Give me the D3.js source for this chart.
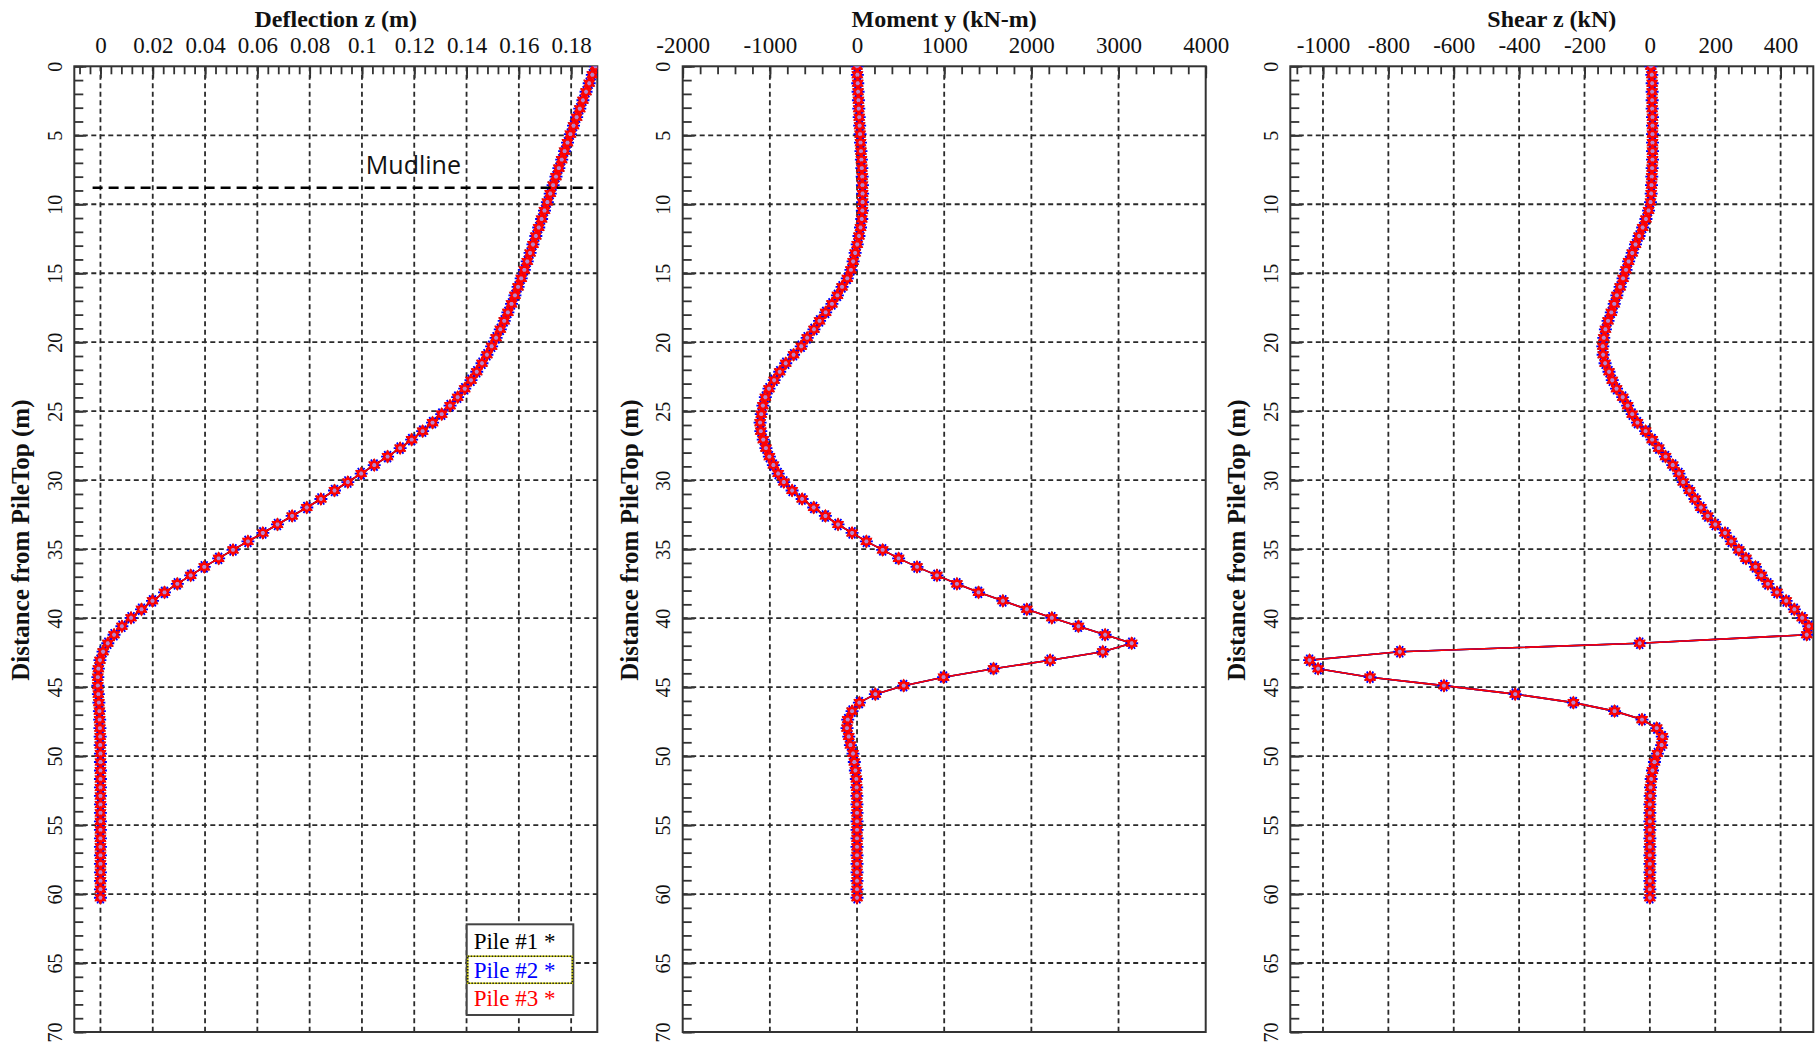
<!DOCTYPE html>
<html>
<head>
<meta charset="utf-8">
<script src="https://cdn.jsdelivr.net/npm/d3@7"></script>
<style>
  body { margin: 0; background: #ffffff; }
  svg { display: block; }
  text { font-family: "Liberation Serif", "Times New Roman", serif; fill: #111; }
</style>
</head>
<body>
<svg id="chart" width="1817" height="1047"></svg>
<script>
// Node depths along the pile (m below pile top)
const depth = [
  0.000, 0.615, 1.230, 1.845, 2.460, 3.075, 3.690, 4.305, 4.920, 5.535,
  6.150, 6.765, 7.380, 7.995, 8.610, 9.225, 9.840, 10.455, 11.070, 11.685,
  12.300, 12.915, 13.530, 14.145, 14.760, 15.375, 15.990, 16.605, 17.220, 17.835,
  18.450, 19.065, 19.680, 20.295, 20.910, 21.525, 22.140, 22.755, 23.370, 23.985,
  24.600, 25.215, 25.830, 26.445, 27.060, 27.675, 28.290, 28.905, 29.520, 30.135,
  30.750, 31.365, 31.980, 32.595, 33.210, 33.825, 34.440, 35.055, 35.670, 36.285,
  36.900, 37.515, 38.130, 38.745, 39.360, 39.975, 40.590, 41.205, 41.820, 42.435,
  43.050, 43.665, 44.280, 44.895, 45.510, 46.125, 46.740, 47.355, 47.970, 48.585,
  49.200, 49.815, 50.430, 51.045, 51.660, 52.275, 52.890, 53.505, 54.120, 54.735,
  55.350, 55.965, 56.580, 57.195, 57.810, 58.425, 59.040, 59.655, 60.270
];

// Lateral deflection z (m) at each node
const deflection = [
  0.1893, 0.1881, 0.1869, 0.1857, 0.1845, 0.1833, 0.1821, 0.1809, 0.1797, 0.1786,
  0.1775, 0.1764, 0.1753, 0.1742, 0.1731, 0.1720, 0.1709, 0.1698, 0.1687, 0.1676,
  0.1665, 0.1654, 0.1643, 0.1632, 0.1621, 0.1609, 0.1597, 0.1585, 0.1572, 0.1558,
  0.1544, 0.1529, 0.1513, 0.1496, 0.1478, 0.1459, 0.1439, 0.1417, 0.1393, 0.1366,
  0.1337, 0.1305, 0.1270, 0.1232, 0.1190, 0.1146, 0.1098, 0.1047, 0.0997, 0.0946,
  0.0895, 0.0843, 0.0789, 0.0733, 0.0677, 0.0621, 0.0564, 0.0507, 0.0452, 0.0397,
  0.0345, 0.0294, 0.0245, 0.0199, 0.0157, 0.0117, 0.0082, 0.0052, 0.0028, 0.0010,
  -0.0002, -0.0008, -0.0010, -0.0010, -0.0008, -0.0006, -0.0004, -0.0003, -0.0002, -0.0001,
  -0.0001, 0.0000, 0.0000, 0.0000, 0.0000, 0.0000, 0.0000, 0.0000, 0.0000, 0.0000,
  0.0000, 0.0000, 0.0000, 0.0000, 0.0000, 0.0000, 0.0000, 0.0000, 0.0000
];

// Bending moment y (kN-m) at each node
const moment = [
  0, 4, 8, 12, 16, 20, 25, 30, 35, 40,
  45, 50, 55, 59, 62, 64, 64, 61, 54, 40,
  22, 2, -22, -45, -70, -112, -172, -225, -288, -360,
  -430, -494, -572, -640, -728, -818, -887, -951, -1010, -1052,
  -1080, -1099, -1112, -1104, -1076, -1045, -1006, -960, -905, -840,
  -745, -630, -497, -363, -218, -57, 107, 294, 477, 688,
  917, 1146, 1394, 1673, 1948, 2235, 2540, 2846, 3151, 2819,
  2215, 1566, 993, 535, 210, 27, -57, -107, -115, -95,
  -76, -46, -31, -19, -8, -4, -2, -1, 0, 0,
  0, 0, 0, 0, 0, 0, 0, 0, 0
];

// Shear force z (kN) at each node
const shear = [
  3, 6, 7, 7, 7, 7, 8, 8, 8, 8,
  8, 8, 7, 6, 5, 4, 2, -4, -12, -22,
  -33, -44, -54, -65, -73, -82, -91, -101, -109, -118,
  -128, -136, -141, -144, -143, -137, -125, -115, -102, -83,
  -68, -54, -38, -13, 7, 27, 48, 70, 89, 102,
  121, 138, 156, 177, 200, 230, 249, 272, 294, 323,
  341, 361, 389, 417, 442, 466, 486, 480, -31, -765,
  -1041, -1015, -856, -630, -412, -234, -108, -24, 21, 38,
  36, 23, 14, 8, 4, 2, 1, 0, 0, 0,
  0, 0, 0, 0, 0, 0, 0, 0, 0
];

// The three piles give identical responses
const piles = ["Pile #1", "Pile #2", "Pile #3"];
const pileColors = ["#000000", "#0000ff", "#ff0000"];

// Axis ticks
const depthTicks = [0, 5, 10, 15, 20, 25, 30, 35, 40, 45, 50, 55, 60, 65, 70];
const deflectionTicks = [0, 0.02, 0.04, 0.06, 0.08, 0.1, 0.12, 0.14, 0.16, 0.18];
const momentTicks = [-2000, -1000, 0, 1000, 2000, 3000, 4000];
const shearTicks = [-1000, -800, -600, -400, -200, 0, 200, 400];

const mudlineDepth = 8.8;

// ---- layout ----
const svg = d3.select("#chart");
const TOP = 66.3, BOTTOM = 1032, PW = 523;
const panelLeft = [74.3, 682.7, 1290.3];
const INK = "#333333";

const panels = [
  { title: "Deflection z (m)", values: deflection, domain: [-0.01, 0.19], ticks: deflectionTicks, minorStep: 0.004 },
  { title: "Moment y (kN-m)", values: moment, domain: [-2000, 4000], ticks: momentTicks, minorStep: 200 },
  { title: "Shear z (kN)", values: shear, domain: [-1100, 500], ticks: shearTicks, minorStep: 40 }
];

const y = d3.scaleLinear().domain([0, 70]).range([TOP, BOTTOM]);

// marker shapes: six-spoke asterisk and a star-of-david outline
function asteriskType(offset) {
  return {
    draw(ctx, size) {
      const r = Math.sqrt(size) / 2;
      for (let i = 0; i < 3; i++) {
        const a = offset + i * Math.PI / 3;
        ctx.moveTo(r * Math.cos(a), r * Math.sin(a));
        ctx.lineTo(-r * Math.cos(a), -r * Math.sin(a));
      }
    }
  };
}
const hexagram = {
  draw(ctx, size) {
    const r = Math.sqrt(size) / 2;
    for (let t = 0; t < 2; t++) {
      for (let i = 0; i < 3; i++) {
        const a = -Math.PI / 2 + t * Math.PI + i * 2 * Math.PI / 3;
        const px = r * Math.cos(a), py = r * Math.sin(a);
        if (i === 0) ctx.moveTo(px, py); else ctx.lineTo(px, py);
      }
      ctx.closePath();
    }
  }
};
const markerSymbols = [
  d3.symbol().type(asteriskType(Math.PI / 2)).size(144)(),
  d3.symbol().type(asteriskType(0)).size(169)(),
  d3.symbol().type(hexagram).size(121)()
];

const defs = svg.append("defs");

panels.forEach((p, i) => {
  const x0 = panelLeft[i];
  const x = d3.scaleLinear().domain(p.domain).range([x0, x0 + PW]);
  const g = svg.append("g");

  defs.append("clipPath").attr("id", "clip" + i)
    .append("rect").attr("x", x0).attr("y", TOP).attr("width", PW).attr("height", BOTTOM - TOP);

  // dashed grid
  const grid = g.append("g").attr("stroke", "#2a2a2a").attr("stroke-width", 1.8)
    .attr("stroke-dasharray", "5,3.5").attr("fill", "none");
  grid.selectAll("line.v")
    .data(p.ticks.filter(t => x(t) > x0 + 2 && x(t) < x0 + PW - 2))
    .join("line").attr("class", "v")
    .attr("x1", d => x(d)).attr("x2", d => x(d))
    .attr("y1", TOP).attr("y2", BOTTOM);
  grid.selectAll("line.h")
    .data(depthTicks.filter(d => d > 0 && d < 70))
    .join("line").attr("class", "h")
    .attr("x1", x0).attr("x2", x0 + PW)
    .attr("y1", d => y(d)).attr("y2", d => y(d));

  // top axis: minor ticks, then labelled major ticks (inward)
  const minor = [];
  for (let v = 0; v >= p.domain[0] - 1e-9; v -= p.minorStep) minor.push(v);
  for (let v = p.minorStep; v <= p.domain[1] + 1e-9; v += p.minorStep) minor.push(v);
  g.append("g").attr("transform", `translate(0,${TOP})`)
    .call(d3.axisTop(x).tickValues(minor).tickSize(-8).tickFormat(""))
    .call(a => a.select(".domain").remove())
    .call(a => a.selectAll("line").attr("stroke", INK).attr("stroke-width", 1.8));
  g.append("g").attr("transform", `translate(0,${TOP})`)
    .call(d3.axisTop(x).tickValues(p.ticks).tickSize(-12).tickPadding(13).tickFormat(d => String(d)))
    .call(a => a.select(".domain").remove())
    .call(a => a.selectAll("line").attr("stroke", INK).attr("stroke-width", 1.8))
    .call(a => a.selectAll("text").attr("fill", "#111").attr("font-size", 23)
      .attr("font-family", "'Liberation Serif', serif"));

  // left axis: 1 m minor ticks, 5 m labelled ticks with rotated labels
  g.append("g").attr("transform", `translate(${x0},0)`)
    .call(d3.axisLeft(y).tickValues(d3.range(0, 71, 1)).tickSize(-9).tickFormat(""))
    .call(a => a.select(".domain").remove())
    .call(a => a.selectAll("line").attr("stroke", INK).attr("stroke-width", 1.8));
  g.append("g").attr("transform", `translate(${x0},0)`)
    .call(d3.axisLeft(y).tickValues(depthTicks).tickSize(-12).tickFormat(d => String(d)))
    .call(a => a.select(".domain").remove())
    .call(a => a.selectAll("line").attr("stroke", INK).attr("stroke-width", 1.8))
    .call(a => a.selectAll("text")
      .attr("x", null).attr("dy", null)
      .attr("text-anchor", "middle")
      .attr("transform", "translate(-12.5,0) rotate(-90)")
      .attr("fill", "#111").attr("font-size", 20)
      .attr("font-family", "'Liberation Serif', serif"));

  // frame
  g.append("rect").attr("x", x0).attr("y", TOP).attr("width", PW).attr("height", BOTTOM - TOP)
    .attr("fill", "none").attr("stroke", INK).attr("stroke-width", 2);

  // titles
  g.append("text").attr("x", x0 + PW / 2).attr("y", 27)
    .attr("text-anchor", "middle").attr("font-weight", "bold").attr("font-size", 24)
    .text(p.title);
  g.append("text")
    .attr("transform", `translate(${x0 - 45},${(TOP + BOTTOM) / 2 - 9}) rotate(-90)`)
    .attr("text-anchor", "middle").attr("font-weight", "bold").attr("font-size", 25)
    .text("Distance from PileTop (m)");

  // series
  const plot = g.append("g").attr("clip-path", `url(#clip${i})`);
  const pts = depth.map((d, k) => ({ depth: d, v: p.values[k] }));
  const line = d3.line().x(d => x(d.v)).y(d => y(d.depth));
  piles.forEach((name, j) => {
    plot.append("path").datum(pts)
      .attr("fill", "none").attr("stroke", pileColors[j]).attr("stroke-width", 1.6)
      .attr("d", line);
  });
  piles.forEach((name, j) => {
    plot.append("g").selectAll("path").data(pts).join("path")
      .attr("transform", d => `translate(${x(d.v)},${y(d.depth)})`)
      .attr("d", markerSymbols[j])
      .attr("fill", j === 2 ? "rgba(255,190,190,0.7)" : "none")
      .attr("stroke", pileColors[j]).attr("stroke-width", j === 2 ? 1.6 : 1.8);
  });

  if (i === 0) {
    // mudline
    g.append("line")
      .attr("x1", x(-0.003)).attr("x2", x(0.1885))
      .attr("y1", y(mudlineDepth)).attr("y2", y(mudlineDepth))
      .attr("stroke", "#000").attr("stroke-width", 2.6).attr("stroke-dasharray", "10,6");
    g.append("text").attr("x", x(0.1015)).attr("y", y(mudlineDepth) - 14)
      .style("font-family", "'Open Sans', 'Noto Sans', sans-serif").attr("font-size", 25)
      .text("Mudline");

    // legend
    const lx = 466.7, ly = 924.3, lw = 106.6, lh = 90.7;
    const lg = g.append("g");
    lg.append("rect").attr("x", lx).attr("y", ly).attr("width", lw).attr("height", lh)
      .attr("fill", "#fff").attr("stroke", "#444").attr("stroke-width", 2);
    lg.append("rect").attr("x", lx + 1).attr("y", ly + 32).attr("width", lw - 2).attr("height", 27)
      .attr("fill", "none").attr("stroke", "#d6d600").attr("stroke-width", 1.5);
    lg.append("rect").attr("x", lx + 1).attr("y", ly + 32).attr("width", lw - 2).attr("height", 27)
      .attr("fill", "none").attr("stroke", "#222").attr("stroke-width", 1.5).attr("stroke-dasharray", "1.5,1.5");
    lg.selectAll("text.item").data(piles).join("text").attr("class", "item")
      .attr("x", lx + 7).attr("y", (d, j) => ly + 25 + j * 28.5)
      .attr("font-size", 23)
      .style("fill", (d, j) => pileColors[j])
      .text(d => d + " *");
  }
});
</script>
</body>
</html>
